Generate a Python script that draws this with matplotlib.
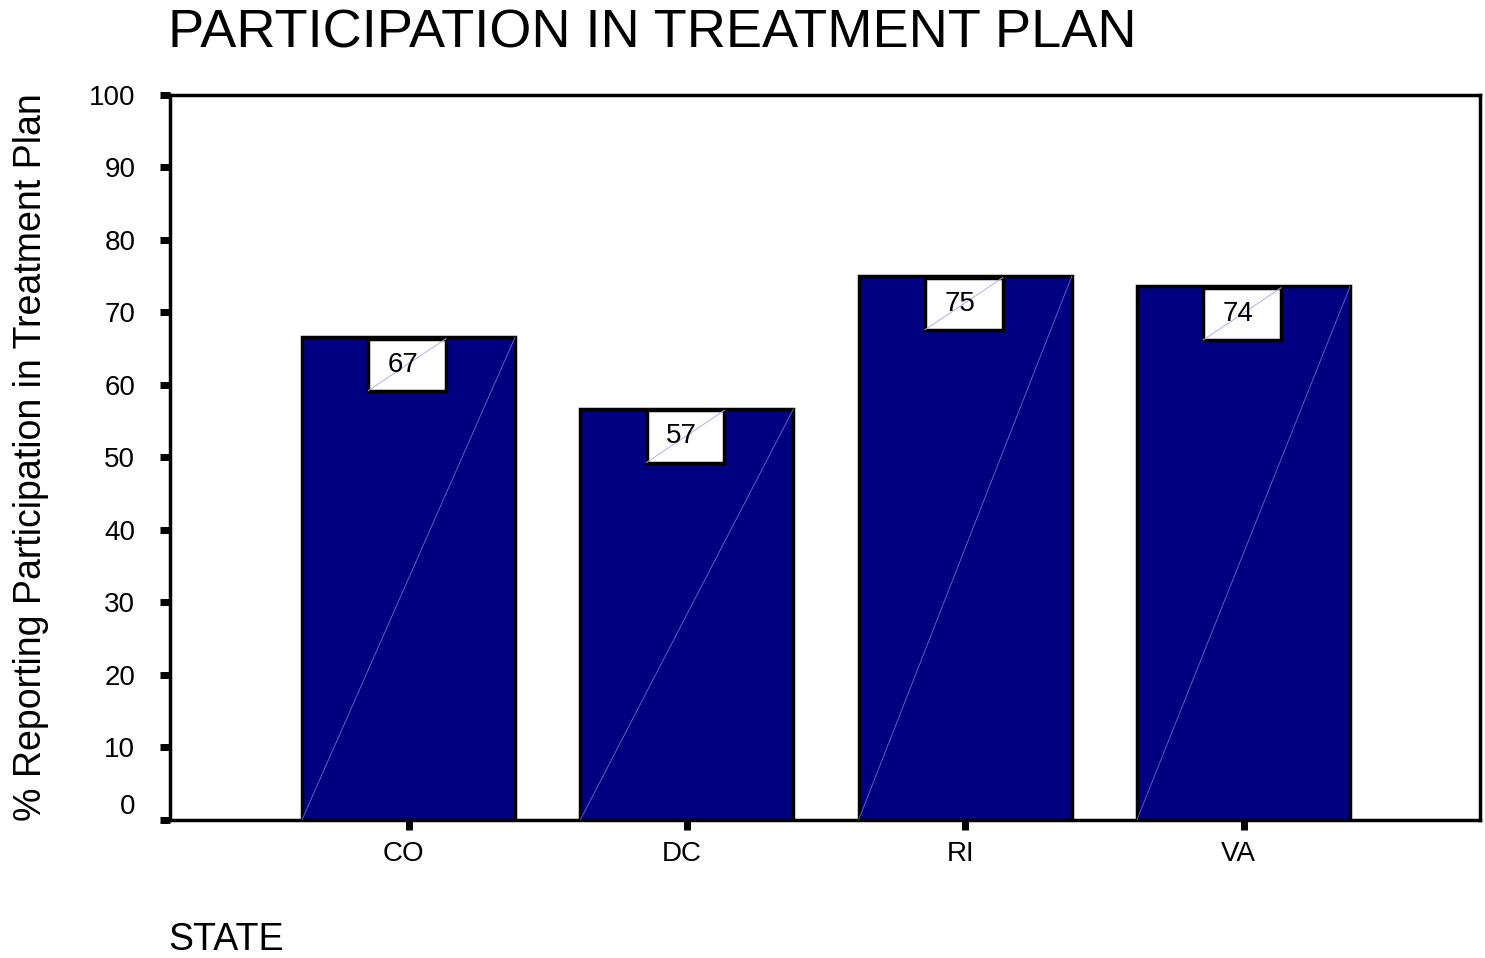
import matplotlib.pyplot as plt
import matplotlib.transforms as mtransforms
from matplotlib.patches import Rectangle
import numpy as np

plt.rcParams['font.family'] = ['Liberation Sans', 'DejaVu Sans']

# data
states = ['CO', 'DC', 'RI', 'VA']
pct = [66.6, 56.7, 75.0, 73.6]
yticks = [0, 10, 20, 30, 40, 50, 60, 70, 80, 90, 100]

fig = plt.figure(figsize=(14.85, 9.58), dpi=100)
ax = fig.add_axes([0.1145, 0.1441, 0.8822, 0.7568])

x = np.arange(len(states))
w = 0.766
ax.bar(x, pct, width=w, color='#000080', edgecolor='black', linewidth=2.5, zorder=2)

# faint diagonal in each bar and value boxes
bw, bh = 0.28, 7.2
for xi, v in zip(x, pct):
    ax.plot([xi - w / 2, xi + w / 2], [0, v], color='#6a6ad0', lw=0.6, zorder=3)
    bx, by = xi - bw / 2 - 0.005, v - bh - 0.2
    ax.add_patch(Rectangle((bx, by), bw, bh, facecolor='white', edgecolor='black',
                           linewidth=2.5, zorder=4))
    ax.plot([bx, bx + bw], [by, by + bh], color='#b0b0e8', lw=0.7, zorder=5)
    ax.text(xi - 0.02, by + bh / 2, f'{round(v)}', ha='center', va='center',
            fontsize=20, zorder=6)

ax.set_xlim(-0.857, 3.85)
ax.set_ylim(0, 100)
ax.set_xticks(x)
ax.set_xticklabels(states, fontsize=20)
ax.set_yticks(yticks)
ax.set_yticklabels([str(t) for t in yticks], fontsize=20)
ax.tick_params(axis='both', direction='out', length=7, width=5, color='black')
ax.tick_params(axis='x', pad=8)
ax.tick_params(axis='y', pad=18)

for s in ax.spines.values():
    s.set_linewidth(2.5)

# nudge the zero label up off the corner
zl = ax.get_yticklabels()[0]
zl.set_transform(zl.get_transform() + mtransforms.ScaledTranslation(0, 0.16, fig.dpi_scale_trans))
for lab in ax.get_xticklabels():
    lab.set_transform(lab.get_transform() + mtransforms.ScaledTranslation(-0.05, 0, fig.dpi_scale_trans))

fig.text(31 / 1485, 1 - 457 / 958, '% Reporting Participation in Treatment Plan',
         fontsize=27, rotation=90, ha='center', va='center')
fig.text(168 / 1485, 1 - 48 / 958, 'PARTICIPATION IN TREATMENT PLAN', fontsize=39,
         ha='left', va='baseline')
fig.text(168 / 1485, 1 - 950 / 958, 'STATE', fontsize=27, ha='left', va='baseline')

fig.savefig('out.png', dpi=100)
